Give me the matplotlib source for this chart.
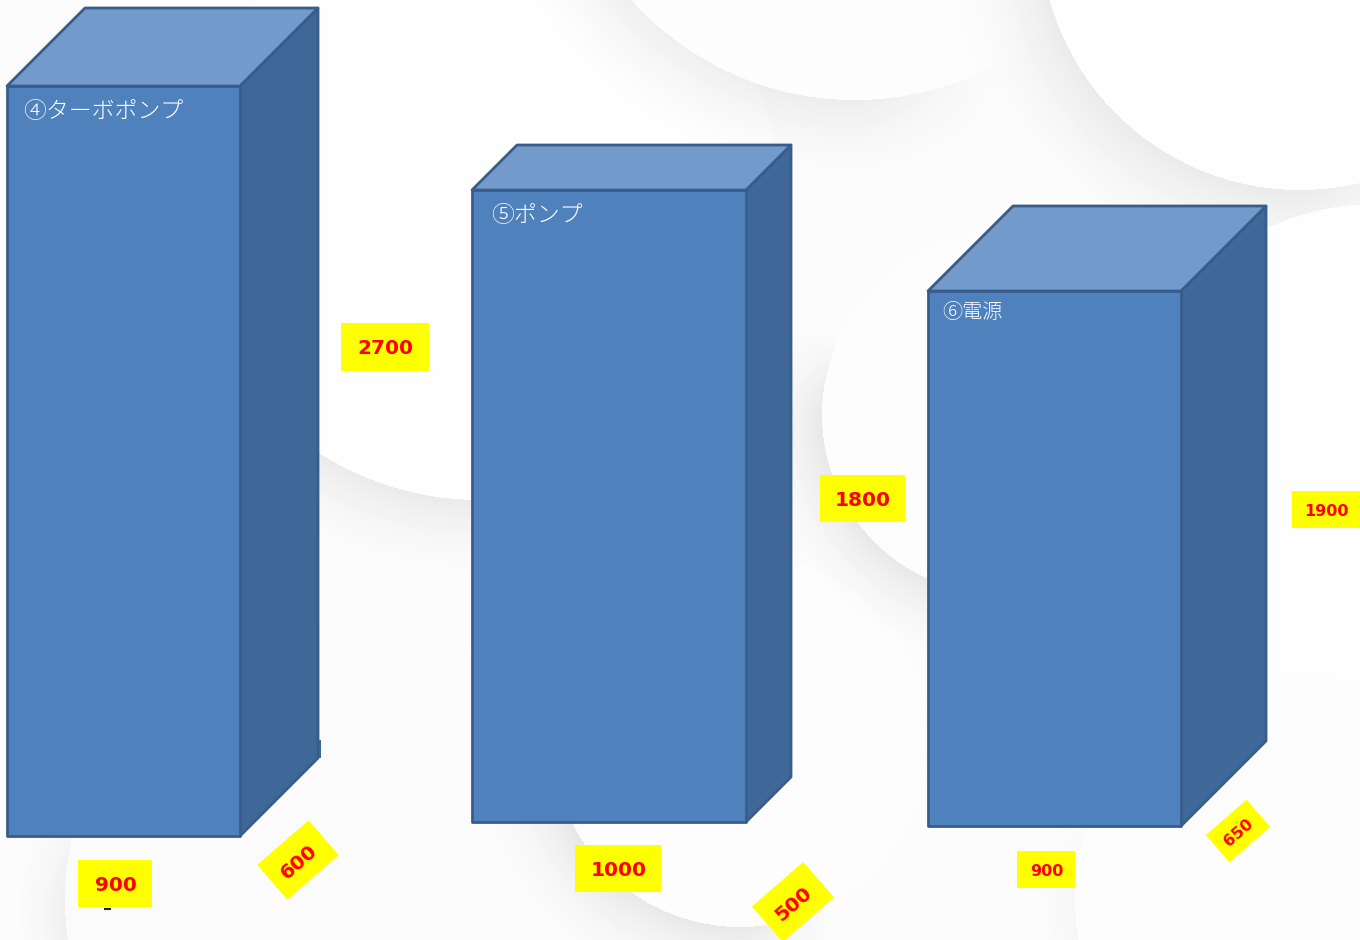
import numpy as np
import matplotlib
matplotlib.use("Agg")
import matplotlib.pyplot as plt
from matplotlib.patches import Polygon, Rectangle

plt.rcParams['font.family'] = ['Noto Sans CJK JP', 'DejaVu Sans']

# data
names = ['④ターボポンプ', '⑤ポンプ', '⑥電源']
widths = [900, 1000, 900]
heights = [2700, 1800, 1900]
depths = [600, 500, 650]

# layout (pixels)
lefts = [7, 472, 928]
bottoms = [836, 822, 826]
w_px_per_unit = [233 / 900, 274 / 1000, 253 / 900]
h_px_per_unit = [750 / 2700, 632 / 1800, 535 / 1900]
d_px_per_unit = [78 / 600, 45 / 500, 85 / 650]
name_offsets = [(16, 26), (19, 25), (14, 22)]
name_sizes = [16.5, 16.5, 14.5]
w_label_pos = [(115, 883.5, 74, 47, 14.5), (618, 868.5, 86, 47, 14.5), (1046, 869.5, 58, 37, 11.5)]
h_label_pos = [(385, 347, 88, 48, 14.5), (862.5, 498.5, 85, 47, 14.5), (1326, 509.5, 68, 37, 11.5)]
d_label_pos = [(298, 860, 68, 46, 14.5), (793, 902, 68, 47, 14.5), (1238, 831, 54, 36, 11.5)]
d_label_rot = [41, 41, 41]

# background discs: centre x, centre y, radius, fill, shadow depth, shadow reach
bg_discs = [(-90, 140, 140, 0.985, 0.02, 50),
            (345, 900, 280, 0.983, 0.05, 65),
            (480, 200, 300, 0.996, 0.07, 95),
            (855, -200, 300, 0.99, 0.06, 100),
            (1300, -70, 260, 0.995, 0.07, 110),
            (740, 740, 187, 0.992, 0.08, 85),
            (1002, 415, 180, 0.992, 0.08, 85),
            (1376, 460, 256, 0.996, 0.07, 95),
            (1300, 900, 225, 0.99, 0.025, 60)]
shadow_dir = (-0.7, 0.71)

FRONT, TOP, SIDE, EDGE = '#4f81bd', '#729aca', '#3f6797', '#385d8a'

fig = plt.figure(figsize=(13.6, 9.4), dpi=100)
ax = fig.add_axes([0, 0, 1, 1])

# soft directional shadows rendered into a grey background image
yy, xx = np.mgrid[0:940, 0:1360] + 0.5
bg = np.full(xx.shape, 0.988)
for cx, cy, r, fill, depth, reach in bg_discs:
    dx, dy = xx - cx, yy - cy
    dist = np.hypot(dx, dy)
    dot = (dx * shadow_dir[0] + dy * shadow_dir[1]) / dist
    weight = np.clip((dot - 0.3) / 0.4, 0, 1)
    falloff = np.clip(1 - (dist - r) / reach, 0, 1) ** 2
    shade = 1 - depth * weight * falloff
    bg = np.where(dist > r, bg * shade, fill)
ax.imshow(bg, cmap='gray', vmin=0, vmax=1, extent=(0, 1360, 940, 0), aspect='auto',
          interpolation='bilinear', zorder=1)
ax.set_xlim(0, 1360)
ax.set_ylim(940, 0)
ax.axis('off')

# boxes
for k in range(3):
    x0, y1 = lefts[k], bottoms[k]
    x1 = x0 + widths[k] * w_px_per_unit[k]
    y0 = y1 - heights[k] * h_px_per_unit[k]
    d = depths[k] * d_px_per_unit[k]
    kw = dict(ec=EDGE, lw=2.0, joinstyle='round', zorder=30)
    ax.add_patch(Polygon([(x1, y0), (x1 + d, y0 - d), (x1 + d, y1 - d), (x1, y1)], fc=SIDE, **kw))
    ax.add_patch(Polygon([(x0, y0), (x0 + d, y0 - d), (x1 + d, y0 - d), (x1, y0)], fc=TOP, **kw))
    ax.add_patch(Polygon([(x0, y0), (x1, y0), (x1, y1), (x0, y1)], fc=FRONT, **kw))
    ax.text(x0 + name_offsets[k][0], y0 + name_offsets[k][1], names[k], color='white',
            fontsize=name_sizes[k], ha='left', va='center', fontweight='light', zorder=31)

# small artefacts in the source picture
ax.add_patch(Rectangle((318, 740), 2.5, 18, fc=SIDE, ec='none', zorder=29))
ax.plot([104.5, 109.5], [908.5, 908.5], color='#222222', lw=1.5, zorder=29)


def tag(text, pos, rot=0):
    cx, cy, w, h, fs = pos
    a = np.deg2rad(-rot)
    R = np.array([[np.cos(a), -np.sin(a)], [np.sin(a), np.cos(a)]])
    pts = np.array([[-w / 2, -h / 2], [w / 2, -h / 2], [w / 2, h / 2], [-w / 2, h / 2]]) @ R.T + [cx, cy]
    ax.add_patch(Polygon(pts, fc='#ffff00', ec='none', zorder=32))
    ax.text(cx + 0.5, cy + 2, text, color='#ff0000', fontsize=fs, fontweight='bold', family='DejaVu Sans',
            ha='center', va='center', rotation=rot, rotation_mode='anchor', zorder=33)


for k in range(3):
    tag(str(widths[k]), w_label_pos[k])
    tag(str(heights[k]), h_label_pos[k])
    tag(str(depths[k]), d_label_pos[k], d_label_rot[k])

fig.savefig('out.png', dpi=100)
